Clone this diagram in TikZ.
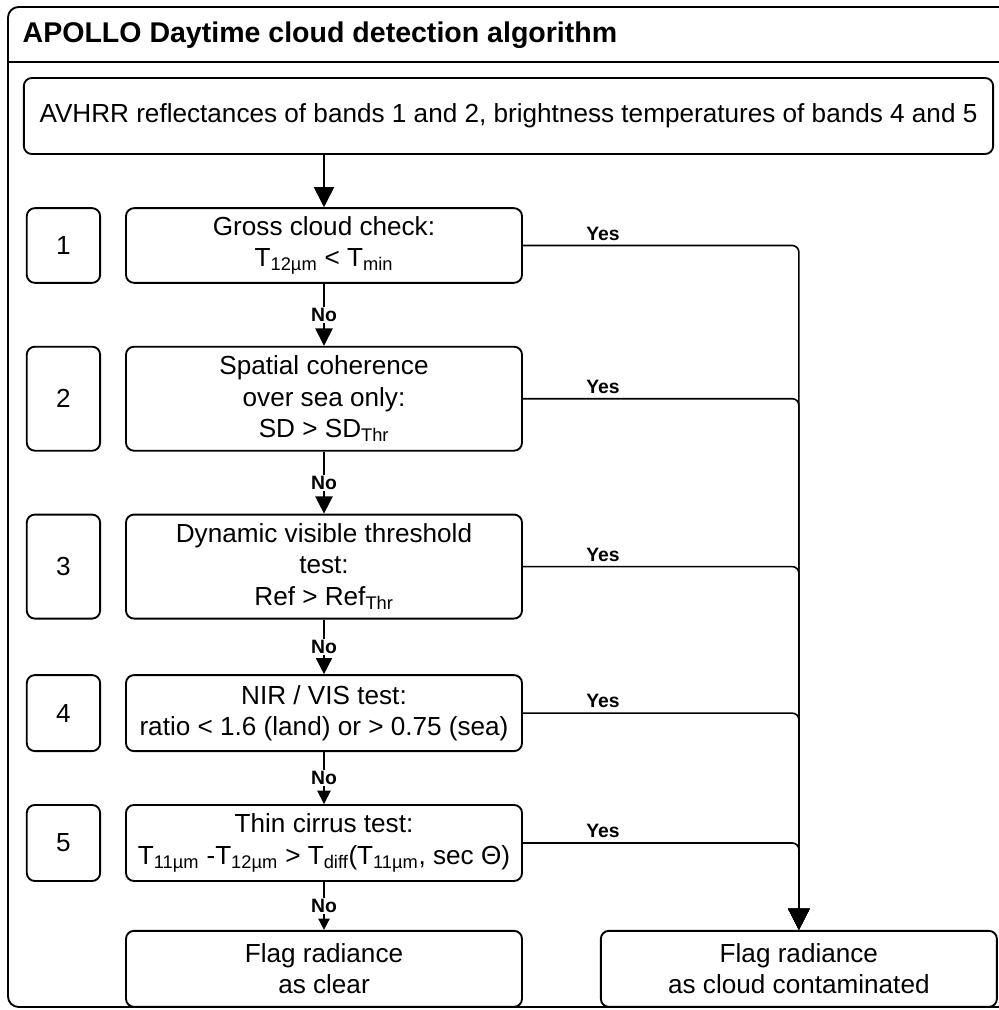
\documentclass[tikz,border=0pt]{standalone}
\usepackage{fontspec}
\setmainfont{Liberation Sans}
\usetikzlibrary{arrows.meta, positioning}
\tikzset{
    box/.style = {rectangle, draw=black, fill=white, line width=1.4pt, rounded corners=6pt, align=center, inner sep=2pt, font=\fontsize{19.6}{23.5}\selectfont},
    testbox/.style = {box, minimum width=297pt, minimum height=#1},
    numbox/.style = {box, minimum width=55pt, minimum height=#1},
    arrow/.style = {line width=1.2pt, -{Triangle[length=#1, width=#1]}},
    arrow/.default = 12pt,
    yesline/.style = {line width=1.2pt, rounded corners=5pt},
    answer/.style = {font=\fontsize{14.5}{17}\selectfont\bfseries}
}

\begin{document}
\begin{tikzpicture}[x=0.75pt, y=-0.75pt]
\useasboundingbox (0,0) rectangle (999,1010);

% frame with title bar
\draw [line width=1.4pt, rounded corners=8pt] (1006,1007) -- (8,1007) -- (8,7) -- (1006,7);
\draw [line width=1.4pt] (8,62) -- (1006,62);
\node (title) [anchor=west, font=\fontsize{21.4}{25}\selectfont\bfseries] at (18,35) {APOLLO Daytime cloud detection algorithm};

\node (input) [box, minimum width=727pt, minimum height=57pt] at (508.5,116) {AVHRR reflectances of bands 1 and 2, brightness temperatures of bands 4 and 5};

% the five tests
\node (t1) [testbox=56pt] at (324,245.5) {Gross cloud check:\\T\textsubscript{12µm} < T\textsubscript{min}};
\node (t2) [testbox=78pt, below=46.5pt of t1] {Spatial coherence\\over sea only:\\SD > SD\textsubscript{Thr}};
\node (t3) [testbox=78pt, below=46.5pt of t2] {Dynamic visible threshold\\test:\\Ref > Ref\textsubscript{Thr}};
\node (t4) [testbox=57pt, below=41pt of t3] {NIR / VIS test:\\ratio < 1.6 (land) or > 0.75 (sea)};
\node (t5) [testbox=57pt, below=39pt of t4] {Thin cirrus test:\\T\textsubscript{11µm} -T\textsubscript{12µm} > T\textsubscript{diff}(T\textsubscript{11µm}, sec Θ)};
\node (clear) [testbox=57pt, below=36pt of t5] {Flag radiance\\as clear};
\node (cloudy) [testbox=57pt, right=57.75pt of clear] {Flag radiance\\as cloud contaminated};

\foreach \i/\h in {1/56pt, 2/78pt, 3/78pt, 4/57pt, 5/57pt}
    \node (n\i) [numbox=\h, left=18pt of t\i] {\i};

\draw [arrow=15pt] (input.south -| t1) -- (t1);
\foreach \a/\b/\s in {t1/t2/13pt, t2/t3/13pt, t3/t4/12pt, t4/t5/10pt, t5/clear/8.5pt}
    \draw [arrow=\s] (\a) -- node [answer, fill=white, inner sep=1pt] {No} (\b);
\foreach \t in {t1, t2, t3, t4, t5}
    \draw [arrow=16pt, yesline] (\t) -| node [answer, pos=0.145, above] {Yes} (cloudy);
\end{tikzpicture}
\end{document}
